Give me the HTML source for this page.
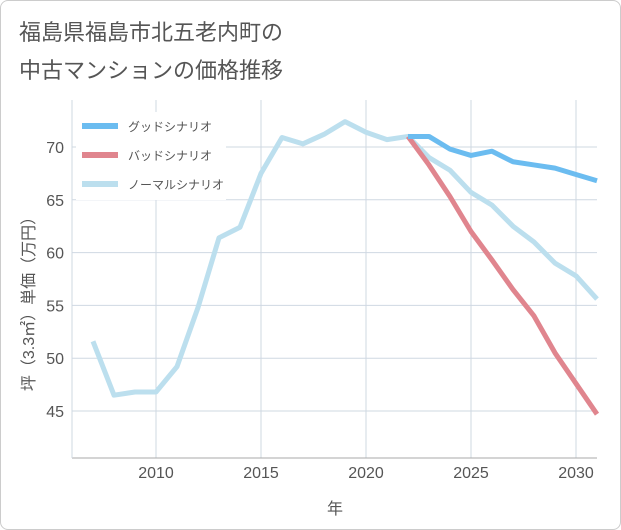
<!DOCTYPE html>
<html><head><meta charset="utf-8"><style>
body{margin:0;background:#fff;font-family:"Liberation Sans","Noto Sans CJK JP",sans-serif;}
#wrap{position:relative;width:619px;height:528px;border:1px solid #ccc;border-radius:8px;background:#fff;}
.t{position:absolute;left:18px;font-size:22px;color:#555;}
</style></head><body>
<div id="wrap">
<div class="t" style="top:14px">福島県福島市北五老内町の</div>
<div class="t" style="top:52px">中古マンションの価格推移</div>
<svg id="svg" width="621" height="530" style="position:absolute;left:-1px;top:-1px"></svg>
</div>
<script>
const years=[2007,2008,2009,2010,2011,2012,2013,2014,2015,2016,2017,2018,2019,2020,2021,2022,2023,2024,2025,2026,2027,2028,2029,2030,2031];
const normal=[51.6,46.5,46.8,46.8,49.2,54.8,61.4,62.4,67.5,70.9,70.3,71.2,72.4,71.4,70.7,71.0,69.0,67.8,65.7,64.5,62.5,61.0,59.0,57.8,55.6];
const goodYears=[2022,2023,2024,2025,2026,2027,2028,2029,2030,2031];
const good=[71.0,71.0,69.8,69.2,69.6,68.6,68.3,68.0,67.4,66.8];
const bad=[71.0,68.3,65.3,62.0,59.3,56.5,54.0,50.5,47.6,44.7];
const xTicks=[2010,2015,2020,2025,2030];
const yTicks=[45,50,55,60,65,70];
const legendLabels=["グッドシナリオ","バッドシナリオ","ノーマルシナリオ"];
const colors=["#6bbcf0","#e0858e","#bcdfee"];
const NS="http://www.w3.org/2000/svg",svg=document.getElementById('svg');
const L=72,R=597,T=100,B=458;
const x=v=>L+(v-2006)/(2031-2006)*(R-L);
const y=v=>147+(70-v)*10.56;
function mk(t,a,p){const e=document.createElementNS(NS,t);for(const k in a)e.setAttribute(k,a[k]);(p||svg).appendChild(e);return e;}
xTicks.forEach(v=>{const g=mk('line',{x1:x(v),x2:x(v),y1:T,y2:B,stroke:'#cfd8e2'});
const t=mk('text',{x:x(v),y:B+20,'text-anchor':'middle','font-size':16,fill:'#555'});t.textContent=v;});
yTicks.forEach(v=>{const g=mk('line',{x1:L,x2:R,y1:y(v),y2:y(v),stroke:'#cfd8e2'});
const t=mk('text',{x:L-8,y:y(v)+6,'text-anchor':'end','font-size':16,fill:'#555'});t.textContent=v;});
const ax=mk('line',{x1:L,x2:R,y1:B,y2:B,stroke:'#aaa'});
const ay=mk('line',{x1:L,x2:L,y1:T,y2:B,stroke:'#cfd8e2'});
function line(xs,vs,c,name){const p=mk('polyline',{points:xs.map((v,i)=>x(v)+','+y(vs[i])).join(' '),fill:'none',stroke:c,'stroke-width':5,'stroke-linejoin':'round'});}
line(years,normal,colors[2],'normal-scenario-line');
line(goodYears,bad,colors[1],'bad-scenario-line');
line(goodYears,good,colors[0],'good-scenario-line');
const lg=mk('rect',{x:76,y:112,width:150,height:88,fill:'#fff'});
legendLabels.forEach((s,i)=>{const yy=126+i*29;const l=mk('line',{x1:82,x2:118,y1:yy,y2:yy,stroke:colors[i],'stroke-width':6});
const t=mk('text',{x:128,y:yy+5,'font-size':12,fill:'#555'});t.textContent=s;});
const xt=mk('text',{x:335,y:514,'text-anchor':'middle','font-size':16,fill:'#555'});xt.textContent='年';
const yt=mk('text',{x:0,y:0,'text-anchor':'middle','font-size':16,fill:'#555',transform:'translate(34,300) rotate(-90)'});yt.textContent='坪（3.3㎡）単価（万円）';
</script></body></html>
